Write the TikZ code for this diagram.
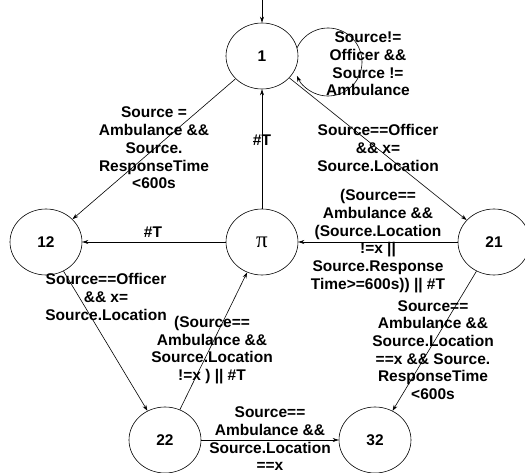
\documentclass[tikz,border=0pt]{standalone}
\usepackage{fontspec}
\setmainfont{Liberation Sans}
\newfontfamily\pifont{Liberation Serif}
\usetikzlibrary{shapes.geometric,arrows.meta}
\begin{document}
\begin{tikzpicture}[x=1pt,y=1pt,
  state/.style={draw,ellipse,minimum width=72pt,minimum height=66pt,inner sep=0pt,line width=0.6pt,font=\fontsize{15.5}{17.7}\selectfont\bfseries},
  lbl/.style={align=center,inner sep=0pt,font=\fontsize{15.5}{17.7}\selectfont\bfseries},
  arr/.style={line width=0.6pt,-{Stealth[length=6pt,width=4pt]}}]
\useasboundingbox (0,0) rectangle (525,-473);
\node[state] (n1) at (262,-56) {1};
\node[state] (n12) at (46,-242) {12};
\node[state] (npi) at (262,-242) {\pifont\fontsize{23}{23}\selectfont\mdseries π};
\node[state] (n21) at (494,-242) {21};
\node[state] (n22) at (165,-440) {22};
\node[state] (n32) at (375,-440) {32};
\coordinate (init) at (262,0);
\coordinate (lc) at (328,-62);
% edges
\draw[arr] (init) -- (n1);
\draw[arr] ([shift={(156:34)}]lc) arc[start angle=156,end angle=-156,radius=34];
\draw[arr] (n1) -- (n12);
\draw[arr] (npi) -- (n1);
\draw[arr] (npi) -- (n12);
\draw[arr] (n1) -- (n21);
\draw[arr] (n21) -- (npi);
\draw[arr] (n12) -- (n22);
\draw[arr] (n22) -- (npi);
\draw[arr] (n21) -- (n32);
\draw[arr] (n22) -- (n32);
% labels
\node[lbl] (l1) at (368,-64) {Source!=\\Officer \&\&\\Source !=\\Ambulance};
\node[lbl] (l2) at (378,-148) {Source==Officer\\\&\& x=\\Source.Location};
\node[lbl] (l3) at (154,-148) {Source =\\Ambulance \&\&\\Source.\\ResponseTime\\<600s};
\node[lbl] (l4) at (262,-140) {\#T};
\node[lbl] (l5) at (153,-232) {\#T};
\node[lbl] (l6) at (378,-241) {(Source==\\Ambulance \&\&\\(Source.Location\\!=x ||\\Source.Response\\Time>=600s)) || \#T};
\node[lbl] (l7) at (106,-297) {Source==Officer\\\&\& x=\\Source.Location};
\node[lbl] (l8) at (212,-350) {(Source==\\Ambulance \&\&\\Source.Location\\!=x ) || \#T};
\node[lbl] (l9) at (433,-350) {Source==\\Ambulance \&\&\\Source.Location\\==x \&\& Source.\\ResponseTime\\<600s};
\node[lbl] (l10) at (270,-439) {Source==\\Ambulance \&\&\\Source.Location\\==x};
\end{tikzpicture}
\end{document}
